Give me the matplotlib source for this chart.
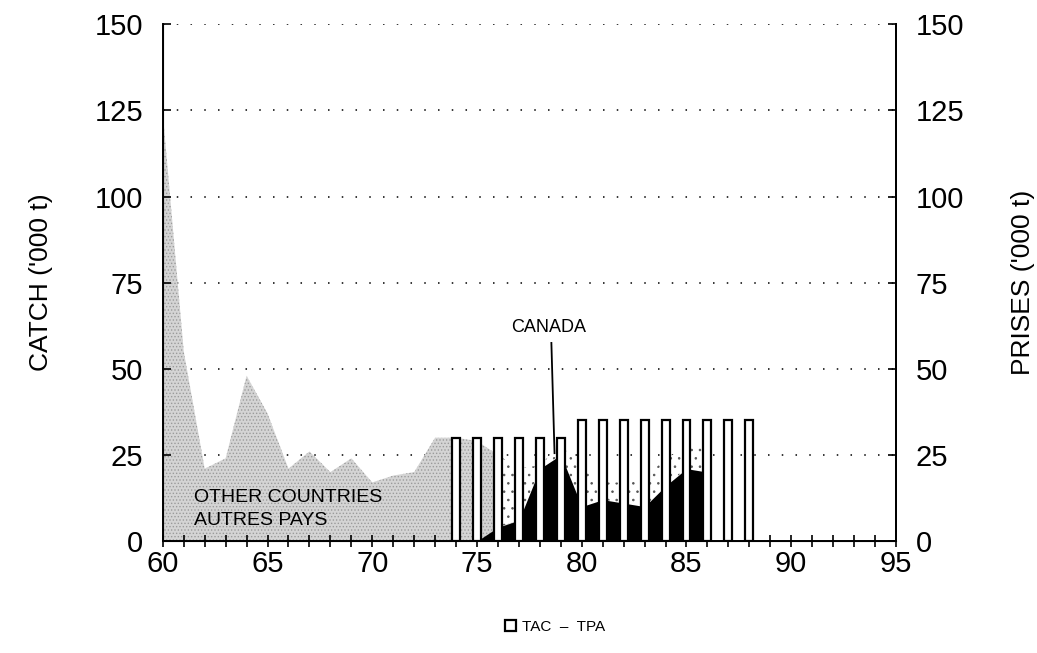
import matplotlib.pyplot as plt
import numpy as np

plt.rcParams['font.family'] = ['Liberation Sans', 'DejaVu Sans']
plt.rcParams['hatch.linewidth'] = 0.6

# total catch (all countries), '000 t
total_years = [60, 61, 62, 63, 64, 65, 66, 67, 68, 69, 70, 71, 72, 73, 74,
               75, 76, 77, 78, 79, 80, 81, 82, 83, 84, 85, 86]
total_catch = [124, 55, 21, 24, 48, 37, 21, 26, 20, 24, 17, 19, 20, 30, 30,
               29, 25, 21, 22, 28, 21, 17, 17, 18, 24, 27, 27]

# canadian catch
canada_years = [74, 75, 76, 77, 78, 79, 80, 81, 82, 83, 84, 85, 86]
canada_catch = [0, 0, 4, 6, 21, 25, 10, 12, 11, 10, 16, 21, 20]

# TAC - TPA
tac_years = [74, 75, 76, 77, 78, 79, 80, 81, 82, 83, 84, 85, 86, 87, 88]
tac_values = [30, 30, 30, 30, 30, 30, 35, 35, 35, 35, 35, 35, 35, 35, 35]

fig = plt.figure(figsize=(10.37, 6.53), dpi=100)
ax = fig.add_axes([0.157, 0.1715, 0.707, 0.7913])

ty = np.array(total_years)
tc = np.array(total_catch)
can_on_total = np.interp(ty, canada_years, canada_catch, left=0)

# other countries: dense grey stipple up to 76, sparse dots above canada after
ax.fill_between(ty, 0, tc, where=ty <= 76, interpolate=True,
                facecolor='#d4d4d4', edgecolor='#9a9a9a', hatch='.....',
                linewidth=0, zorder=1)
ax.fill_between(ty, can_on_total, tc, where=ty >= 76, interpolate=True,
                facecolor='white', edgecolor='#555555', hatch='..',
                linewidth=0, zorder=1)
ax.fill_between(canada_years, 0, canada_catch, color='black', linewidth=0, zorder=2)

ax.bar(tac_years, tac_values, width=0.38, facecolor='white', edgecolor='black',
       linewidth=1.6, zorder=3, label='TAC  \u2013  TPA')

ax.set_xlim(60, 95)
ax.set_ylim(0, 150)
ax.set_xticks(range(60, 96, 5))
ax.set_xticks(range(60, 96), minor=True)
ax.set_yticks(range(0, 151, 25))
ax.tick_params(axis='x', which='both', direction='inout', length=9, width=1.2,
               labelsize=21, pad=2)
ax.tick_params(axis='y', direction='in', length=6, width=1.2, labelsize=21, pad=14)

for y in range(25, 151, 25):
    ax.axhline(y, color='black', linestyle=(0, (1, 8)), linewidth=1.1, zorder=0)

ax.spines['top'].set_visible(False)
for s in ['left', 'right', 'bottom']:
    ax.spines[s].set_linewidth(1.4)
ax.set_ylabel("CATCH ('000 t)", fontsize=19, labelpad=30)

ax2 = ax.twinx()
ax2.set_ylim(0, 150)
ax2.set_yticks(range(0, 151, 25))
ax2.tick_params(axis='y', direction='in', length=6, width=1.2, labelsize=21, pad=14)
ax2.spines['top'].set_visible(False)
ax2.spines['right'].set_linewidth(1.4)
ax2.set_ylabel("PRISES ('000 t)", fontsize=19, labelpad=34, rotation=90)

ax.text(61.5, 12.5, 'OTHER COUNTRIES', fontsize=14, va='center', zorder=4)
ax.text(61.5, 6, 'AUTRES PAYS', fontsize=14, va='center', zorder=4)

ax.text(78.4, 62, 'CANADA', fontsize=13, ha='center', va='center')
ax.plot([78.55, 78.7], [57.5, 25.5], color='black', linewidth=1.3, zorder=4)

fig.legend(loc='center', bbox_to_anchor=(0.535, 0.04), frameon=False,
           fontsize=11, handlelength=0.7, handleheight=0.8, handletextpad=0.4)

fig.savefig('out.png', dpi=100)
